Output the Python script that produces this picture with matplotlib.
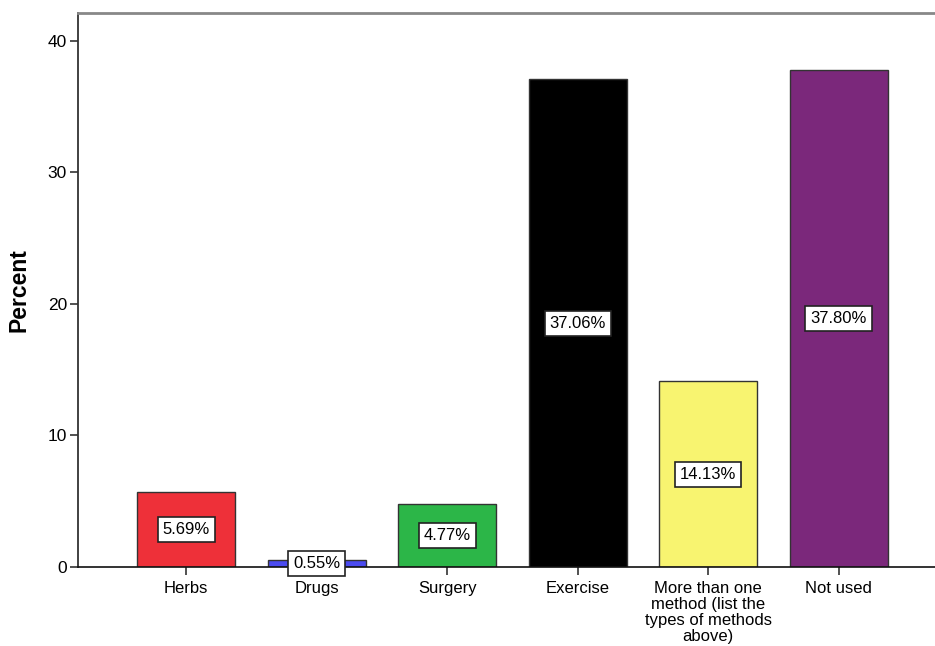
import numpy as np
import matplotlib.pyplot as plt

categories = ["Herbs", "Drugs", "Surgery", "Exercise",
              "More than one\nmethod (list the\ntypes of methods\nabove)", "Not used"]
percents = [5.69, 0.55, 4.77, 37.06, 14.13, 37.80]
colors = ["#EE3039", "#4B4BF0", "#2CB648", "#000000", "#F8F470", "#7B287B"]

plt.rcParams['font.family'] = ['Liberation Sans', 'DejaVu Sans']

fig = plt.figure(figsize=(9.35, 6.46), dpi=100)
ax = fig.add_axes([78/935, 1 - 567/646, 1 - 78/935 + 0.01, (567 - 13)/646])

x = np.arange(len(categories))
ax.bar(x, percents, width=0.75, color=colors, edgecolor="#333333", linewidth=1.0)

for xi, p in zip(x, percents):
    ax.text(xi, p / 2, f"{p:.2f}%", ha="center", va="center", fontsize=12,
            bbox=dict(boxstyle="square,pad=0.3", facecolor="white", edgecolor="#222222", linewidth=1.2))

ax.set_xlim(-0.83, 5.74 + 0.07)
ax.set_ylim(0, 42.1)
ax.set_yticks([0, 10, 20, 30, 40])
ax.set_xticks(x)
ax.set_xticklabels(categories, fontsize=12, linespacing=1.08)
ax.tick_params(axis="y", labelsize=12.5, length=6, width=1.2, color="#333333", pad=2)
ax.tick_params(axis="x", length=6, width=1.2, color="#333333", pad=4)
ax.set_ylabel("Percent", fontsize=16.5, fontweight="bold", labelpad=12)

ax.spines["right"].set_visible(False)
ax.spines["top"].set_color("#888888")
ax.spines["top"].set_linewidth(2)
ax.spines["left"].set_color("#333333")
ax.spines["left"].set_linewidth(1.3)
ax.spines["bottom"].set_color("#111111")
ax.spines["bottom"].set_linewidth(1.2)

fig.savefig("out.png", dpi=100)
